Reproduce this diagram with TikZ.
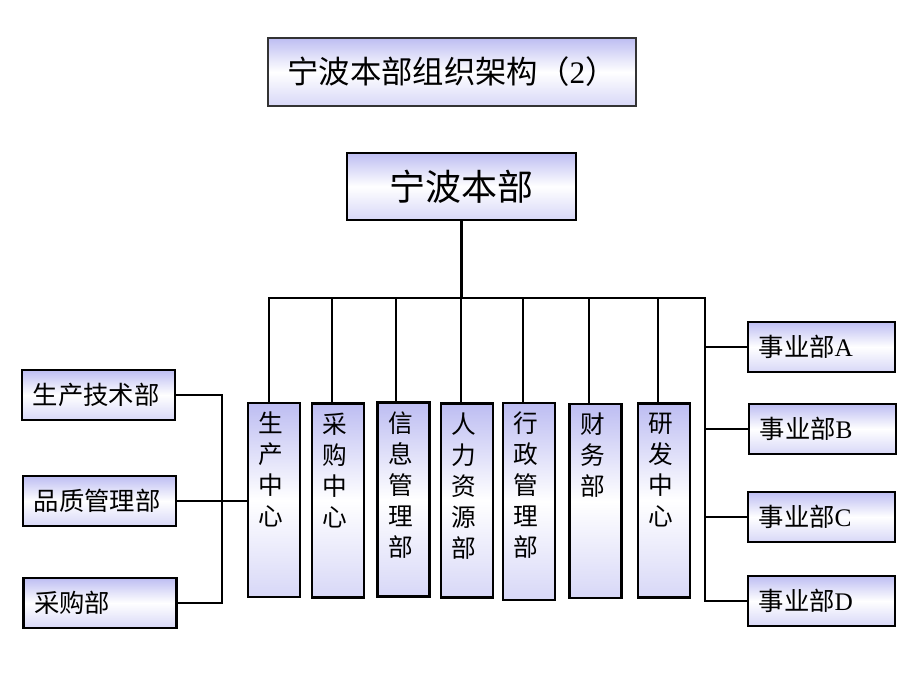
\documentclass[tikz,border=0pt]{standalone}
\usepackage{fontspec}
\setmainfont{Liberation Serif}
\newfontfamily\cjk{Noto Sans CJK SC}
\usetikzlibrary{calc}
\definecolor{lav}{HTML}{BDBDF2}
\begin{document}
\begin{tikzpicture}[x=0.75pt,y=-0.75pt,
  box/.style={draw=black, line width=1.7pt, inner sep=0pt,
    top color=lav, bottom color=lav!60, middle color=white},
  sbox/.style={box, minimum height=37.5pt, inner xsep=8pt, text width=#1,
    align=left, font=\cjk\fontsize{19}{21}\selectfont},
  vbox/.style={box, minimum width=39pt, minimum height=#1},
  vtxt/.style={anchor=north, align=center, inner sep=0pt,
    font=\cjk\fontsize{18.5}{23.25}\selectfont},
  conn/.style={line width=1.8pt, draw=black}
]
\useasboundingbox (0,0) rectangle (920,690);

% title
\node[box, line width=0.8pt, draw=black!80, minimum width=276pt, minimum height=51pt,
  font=\cjk\fontsize{23.5}{25}\selectfont] (title) at (452,72) {宁波本部组织架构（{\rmfamily 2}）};

% main
\node[box, line width=2.2pt, minimum width=171.75pt, minimum height=50.25pt,
  font=\cjk\fontsize{27}{29}\selectfont] (main) at (461.5,186.5) {宁波本部};

% vertical boxes
\node[vbox=145.5pt] (b1) at (274,500) {};
\node[vbox=145.5pt] (b2) at (338,500.5) {};
\node[vbox=145.5pt] (b3) at (403.5,499.5) {};
\node[vbox=145.5pt] (b4) at (467,500.5) {};
\node[vbox=147.75pt] (b5) at (529,501.5) {};
\node[vbox=145.5pt] (b6) at (595.5,501) {};
\node[vbox=145.5pt] (b7) at (664,500.5) {};

\node[vtxt] (t1) at ($(b1.north)+(-3,10)$) {生\\产\\中\\心};
\node[vtxt] (t2) at ($(b2.north)+(-3,10)$) {采\\购\\中\\心};
\node[vtxt] (t3) at ($(b3.north)+(-3,10)$) {信\\息\\管\\理\\部};
\node[vtxt] (t4) at ($(b4.north)+(-3,10)$) {人\\力\\资\\源\\部};
\node[vtxt] (t5) at ($(b5.north)+(-3,10)$) {行\\政\\管\\理\\部};
\node[vtxt] (t6) at ($(b6.north)+(-3,10)$) {财\\务\\部};
\node[vtxt] (t7) at ($(b7.north)+(-3,10)$) {研\\发\\中\\心};

% left boxes
\node[sbox=98.75pt] (L1) at (98.5,395) {生产技术部};
\node[sbox=98.75pt] (L2) at (99.5,501) {品质管理部};
\node[sbox=98.75pt] (L3) at (100,603) {采购部};

% right boxes
\node[sbox=94.25pt] (dA) at (821.5,347) {事业部{\rmfamily A}};
\node[sbox=94.25pt] (dB) at (822.5,429) {事业部{\rmfamily B}};
\node[sbox=94.25pt] (dC) at (821.5,517) {事业部{\rmfamily C}};
\node[sbox=94.25pt] (dD) at (821.5,601) {事业部{\rmfamily D}};

% connectors
\coordinate (bus) at (461,298);
\coordinate (busL) at (268,298);
\coordinate (busR) at (705,298);
\coordinate (lsp) at (222,501);

\draw[conn] (main.south) -- (main.south |- bus);
\draw[conn] (busL) -- (busR) |- (dD.west);
\foreach \b/\dx in {b1/-5,b2/-6,b3/-7.5,b4/-6,b5/-6,b6/-6.5,b7/-6}
  \draw[conn] (\b.north) ++(\dx,0) coordinate (d) -- (d |- bus);
\foreach \r in {dA,dB,dC}
  \draw[conn] (\r.west) -- (\r.west -| busR);

\draw[conn] (L1.east) -| (lsp) |- (L3.east);
\draw[conn] (L2.east) -- (L2.east -| b1.west);
\end{tikzpicture}
\end{document}
